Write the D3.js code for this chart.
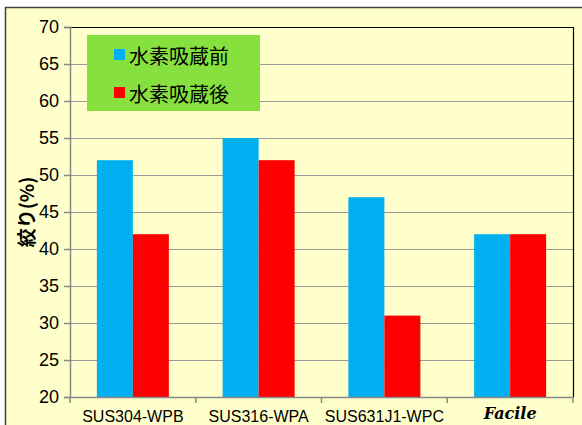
<!DOCTYPE html>
<html>
<head>
<meta charset="utf-8">
<script src="https://cdn.jsdelivr.net/npm/d3@7"></script>
<style>
  body { margin: 0; background: #fff; }
  svg text { font-family: Arial, "Liberation Sans", sans-serif; }
</style>
</head>
<body>
<svg id="chart" width="582" height="425"></svg>
<script>
// data
const categories = ["SUS304-WPB", "SUS316-WPA", "SUS631J1-WPC", "Facile"];
const seriesNames = ["水素吸蔵前", "水素吸蔵後"];
const before = [52, 55, 47, 42];
const after = [42, 52, 31, 42];
const yTicks = [20, 25, 30, 35, 40, 45, 50, 55, 60, 65, 70];

const colors = ["#00B0F0", "#FF0000"];

const svg = d3.select("#chart");

// outer chart area
svg.append("rect")
  .attr("x", 5.5).attr("y", 7.5)
  .attr("width", 600).attr("height", 440)
  .attr("fill", "#FFFFCC")
  .attr("stroke", "#404040")
  .attr("stroke-width", 1.5);

const margin = { left: 70, top: 27, right: 9, bottom: 28 };
const width = 582 - margin.left - margin.right;
const height = 425 - margin.top - margin.bottom;

const g = svg.append("g")
  .attr("transform", "translate(" + margin.left + "," + margin.top + ")");

const x0 = d3.scaleBand()
  .domain(categories)
  .range([0, width]);

const x1 = d3.scaleBand()
  .domain(seriesNames)
  .range([0, 72]);

const y = d3.scaleLinear()
  .domain([20, 70])
  .range([height, 0]);

// grid lines
g.selectAll(".grid")
  .data(yTicks)
  .enter()
  .append("line")
  .attr("x1", 0).attr("x2", width)
  .attr("y1", d => Math.round(y(d)) + 0.5)
  .attr("y2", d => Math.round(y(d)) + 0.5)
  .attr("stroke", "#999")
  .attr("stroke-width", 1.2);

// bars
const data = categories.map((c, i) => ({ cat: c, values: [before[i], after[i]] }));

const group = g.selectAll(".group")
  .data(data)
  .enter()
  .append("g")
  .attr("transform", d => "translate(" + (x0(d.cat) + (x0.bandwidth() - 72) / 2) + ",0)");

group.selectAll("rect")
  .data(d => d.values.map((v, i) => ({ name: seriesNames[i], value: v, i: i })))
  .enter()
  .append("rect")
  .attr("x", d => x1(d.name))
  .attr("width", x1.bandwidth())
  .attr("y", d => y(d.value))
  .attr("height", d => height - y(d.value))
  .attr("fill", d => colors[d.i]);

// plot frame: top and right black
g.append("path")
  .attr("d", "M0,0.5H" + (width + 0.5) + "V" + height)
  .attr("fill", "none")
  .attr("stroke", "#000")
  .attr("stroke-width", 1.2);

// y axis
const yAxis = g.append("g")
  .call(d3.axisLeft(y).tickValues(yTicks).tickSize(6).tickPadding(5));
yAxis.select(".domain").attr("stroke", "#888").attr("stroke-width", 1.5);
yAxis.selectAll(".tick line").attr("stroke", "#888").attr("stroke-width", 1.5);
yAxis.selectAll("text")
  .attr("font-size", 18)
  .attr("fill", "#000")
  .style("font-family", "Arial, 'Liberation Sans', sans-serif");

// x axis
const xAxis = g.append("g")
  .attr("transform", "translate(0," + height + ")")
  .call(d3.axisBottom(x0).tickSize(0).tickPadding(14));
xAxis.select(".domain").attr("stroke", "#888").attr("stroke-width", 1.5);
xAxis.selectAll("text")
  .attr("font-size", 16)
  .attr("fill", "#000")
  .style("font-family", "Arial, 'Liberation Sans', sans-serif");
xAxis.selectAll(".tick")
  .filter(d => d === "Facile")
  .select("text")
  .attr("y", 11)
  .attr("font-size", 16)
  .attr("font-weight", "bold")
  .attr("font-style", "italic")
  .style("font-family", "'DejaVu Serif', serif");

// category separator ticks
xAxis.selectAll(".sep")
  .data(d3.range(categories.length + 1))
  .enter()
  .append("line")
  .attr("x1", i => i * x0.bandwidth())
  .attr("x2", i => i * x0.bandwidth())
  .attr("y1", 0).attr("y2", 6)
  .attr("stroke", "#888")
  .attr("stroke-width", 1.5);

// y title
svg.append("text")
  .attr("transform", "translate(25,212) rotate(-90)")
  .attr("text-anchor", "middle")
  .attr("dominant-baseline", "central")
  .attr("font-size", 19)
  .attr("font-weight", "bold")
  .style("font-family", "'Noto Sans CJK JP', sans-serif")
  .text("絞り(%)");

// legend
const legend = svg.append("g").attr("transform", "translate(87,35)");
legend.append("rect")
  .attr("width", 173).attr("height", 76)
  .attr("fill", "#86E13F");

const item = legend.selectAll(".item")
  .data(seriesNames)
  .enter()
  .append("g")
  .attr("transform", (d, i) => "translate(27," + (14 + i * 38) + ")");

item.append("rect")
  .attr("width", 11).attr("height", 11)
  .attr("fill", (d, i) => colors[i]);

item.append("text")
  .attr("x", 15).attr("y", 6)
  .attr("dominant-baseline", "central")
  .attr("font-size", 20)
  .attr("fill", "#000")
  .style("font-family", "'Noto Sans CJK JP', sans-serif")
  .text(d => d);
</script>
</body>
</html>
